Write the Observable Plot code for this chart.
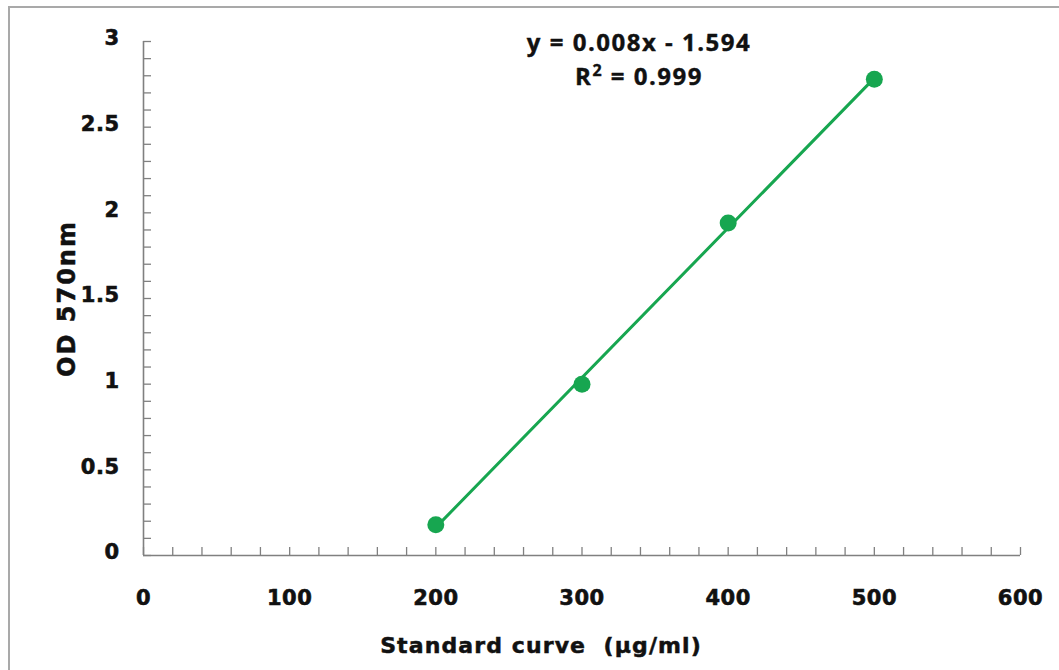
<!DOCTYPE html>
<html>
<head>
<meta charset="utf-8">
<script src="https://cdn.jsdelivr.net/npm/d3@7"></script>
<script src="https://cdn.jsdelivr.net/npm/@observablehq/plot@0.6"></script>
<style>
  html, body { margin: 0; padding: 0; background: #fff; }
  #wrap { position: relative; width: 1059px; height: 670px; overflow: hidden; }
  #frame { position: absolute; left: 8px; top: 6px; width: 1100px; height: 700px; border: 2px solid #a9a9a9; box-sizing: border-box; }
  #chart { position: absolute; left: 0; top: 0; }
</style>
</head>
<body>
<div id="wrap"><div id="frame"></div><div id="chart"></div></div>
<script>
// Data
const concentration = [200, 300, 400, 500];          // µg/ml
const od570 = [0.18, 1.0, 1.94, 2.78];                // OD 570nm
const xMajorTicks = [0, 100, 200, 300, 400, 500, 600];
const yMajorTicks = [0, 0.5, 1, 1.5, 2, 2.5, 3];
const equationLines = ["y = 0.008x - 1.594", "R² = 0.999"];
const xTitle = "Standard curve  (µg/ml)";
const yTitle = "OD 570nm";

const data = concentration.map((c, i) => ({x: c, y: od570[i]}));
const xMinor = d3.range(0, 601, 20);
const yMinor = d3.range(0, 31, 1).map(d => d / 10);

const green = "#17a650";
const axisGray = "#808080";
const tickFont = "DejaVu Sans, Verdana, sans-serif";

const plot = Plot.plot({
  width: 1059,
  height: 670,
  marginLeft: 143,
  marginRight: 39,
  marginTop: 41,
  marginBottom: 115,
  style: {fontFamily: tickFont, background: "transparent", overflow: "visible"},
  x: {domain: [0, 600]},
  y: {domain: [0, 3]},
  marks: [
    // minor ticks (inward)
    Plot.axisX({ticks: xMinor, tickSize: -8, tickFormat: () => "", stroke: axisGray, strokeWidth: 1.3, label: null}),
    Plot.axisY({ticks: yMinor, tickSize: -8, tickFormat: () => "", stroke: axisGray, strokeWidth: 1.3, label: null}),
    // major tick labels
    Plot.axisX({ticks: xMajorTicks, tickSize: 0, tickPadding: 35, fontSize: 21, fontWeight: "bold", fill: "#111",
      tickFormat: d => String(d),
      label: xTitle, labelAnchor: "center", labelArrow: "none", labelOffset: 96}),
    Plot.axisY({ticks: yMajorTicks, tickSize: 0, tickPadding: 24, fontSize: 21, fontWeight: "bold", fill: "#111",
      tickFormat: d => String(d), dy: -3,
      label: yTitle, labelAnchor: "center", labelArrow: "none", labelOffset: 86}),
    // axis lines
    Plot.ruleX([0], {stroke: axisGray, strokeWidth: 1.6}),
    Plot.ruleY([0], {stroke: axisGray, strokeWidth: 1.6}),
    // trend line
    Plot.linearRegressionY(data, {x: "x", y: "y", ci: 0, stroke: green, strokeWidth: 3}),
    // points
    Plot.dot(data, {x: "x", y: "y", r: 8.5, fill: green, stroke: "none"}),
    // equation
    Plot.text([equationLines.join("\n")], {
      frameAnchor: "top", dx: 57, dy: -15, lineAnchor: "top", lineHeight: 1.42,
      fontFamily: "'Open Sans', Lato, sans-serif", fontWeight: "bold", fontSize: 24, fill: "#111",
      stroke: "#111", strokeWidth: 0.4
    })
  ]
});

document.getElementById("chart").appendChild(plot);

// Heavier tick labels
plot.querySelectorAll("g[aria-label='x-axis tick label'], g[aria-label='y-axis tick label']").forEach(g => {
  g.setAttribute("stroke", "#111");
  g.setAttribute("stroke-width", "0.6");
  g.setAttribute("letter-spacing", "0.5");
});

// Equation letter spacing
plot.querySelectorAll("g[aria-label='text'] text").forEach(t => t.setAttribute("letter-spacing", "1.5"));

// Style axis titles
const xl = plot.querySelector("g[aria-label='x-axis label'] text");
if (xl) {
  xl.setAttribute("font-size", "22");
  xl.setAttribute("font-weight", "bold");
  xl.setAttribute("fill", "#111");
  xl.setAttribute("stroke", "#111");
  xl.setAttribute("stroke-width", "0.5");
  xl.setAttribute("letter-spacing", "1.1");
  xl.style.whiteSpace = "pre";
}
const xlg = plot.querySelector("g[aria-label='x-axis label']");
if (xlg) xlg.setAttribute("transform", (xlg.getAttribute("transform") || "") + " translate(-41,1)");
const yl = plot.querySelector("g[aria-label='y-axis label'] text");
if (yl) {
  yl.setAttribute("font-size", "24");
  yl.setAttribute("font-weight", "bold");
  yl.setAttribute("fill", "#111");
  yl.setAttribute("stroke", "#111");
  yl.setAttribute("stroke-width", "0.5");
  yl.setAttribute("letter-spacing", "2");
}

// Superscript 2 in R²
plot.querySelectorAll("tspan").forEach(ts => {
  if (ts.textContent === equationLines[1]) {
    const parts = equationLines[1].split("²");
    ts.textContent = parts[0];
    const sup = document.createElementNS("http://www.w3.org/2000/svg", "tspan");
    sup.setAttribute("dy", "-9");
    sup.setAttribute("font-size", "16");
    sup.textContent = "2";
    const rest = document.createElementNS("http://www.w3.org/2000/svg", "tspan");
    rest.setAttribute("dy", "9");
    rest.textContent = parts[1];
    ts.appendChild(sup);
    ts.appendChild(rest);
  }
});
</script>
</body>
</html>
